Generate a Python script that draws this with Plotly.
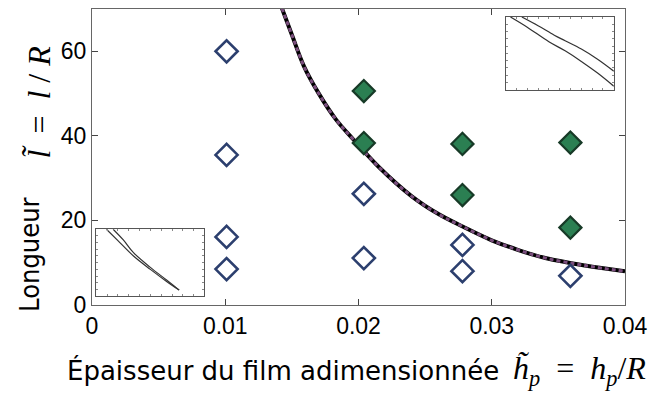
import plotly.graph_objects as go

# ---- data ----
open_x = [0.0101, 0.0101, 0.0101, 0.0101, 0.0204, 0.0204, 0.0278, 0.0278, 0.0359]
open_y = [60.0, 35.5, 16.1, 8.5, 26.3, 11.1, 14.2, 8.0, 6.9]

filled_x = [0.0204, 0.0204, 0.0278, 0.0278, 0.0359, 0.0359]
filled_y = [50.6, 38.3, 38.1, 26.0, 38.4, 18.3]

curve_x = [0.01425, 0.0150, 0.0159, 0.0170, 0.0183, 0.0196, 0.0216, 0.0240,
           0.0260, 0.02785, 0.0300, 0.0320, 0.0341, 0.0370, 0.0400]
curve_y = [70.2, 63.9, 56.5, 50.1, 43.9, 39.2, 32.4, 25.7,
           21.5, 18.5, 15.3, 13.0, 11.05, 9.33, 7.95]

inset1_xa = [0.045, 0.20, 0.40, 0.55, 0.70, 0.85, 1.00]
inset1_ya = [1.00, 0.86, 0.66, 0.535, 0.39, 0.23, 0.05]
inset1_xb = [0.15, 0.30, 0.45, 0.55, 0.70, 0.85, 1.00]
inset1_yb = [1.00, 0.88, 0.75, 0.674, 0.56, 0.42, 0.256]

inset2_xa = [0.094, 0.20, 0.344, 0.50, 0.65, 0.766]
inset2_ya = [1.00, 0.83, 0.60, 0.40, 0.22, 0.09]
inset2_xb = [0.156, 0.25, 0.344, 0.50, 0.65, 0.766]
inset2_yb = [1.00, 0.84, 0.65, 0.43, 0.24, 0.09]

x_ticks = [0, 0.01, 0.02, 0.03, 0.04]
x_ticklabels = ["0", "0.01", "0.02", "0.03", "0.04"]
y_ticks = [0, 20, 40, 60]

x_title_text = "Épaisseur du film adimensionnée"
x_title_math = "<i>h̃</i><sub><i>p</i></sub>  =  <i>h</i><sub><i>p</i></sub>/<i>R</i>"
y_title_text = "Longueur"
y_title_math = "<i>l̃</i>  =  <i>l</i> / <i>R</i>"

fig = go.Figure()

# theoretical curve: black solid + purple dashed on top
fig.add_trace(go.Scatter(x=curve_x, y=curve_y, mode="lines",
                         line=dict(color="black", width=4, shape="spline"),
                         showlegend=False, hoverinfo="skip"))
fig.add_trace(go.Scatter(x=curve_x, y=curve_y, mode="lines",
                         line=dict(color="#7b4f7e", width=3, dash="4px,3px", shape="spline"),
                         showlegend=False, hoverinfo="skip"))

fig.add_trace(go.Scatter(x=open_x, y=open_y, mode="markers",
                         marker=dict(symbol="diamond-open", size=17, color="#2c3f6e",
                                     line=dict(color="#2c3f6e", width=2.6)),
                         showlegend=False))
fig.add_trace(go.Scatter(x=filled_x, y=filled_y, mode="markers",
                         marker=dict(symbol="diamond", size=17, color="#2b7f52",
                                     line=dict(color="#173a27", width=2.2)),
                         showlegend=False))

# insets
for xs, ys, ax in [(inset1_xa, inset1_ya, "2"), (inset1_xb, inset1_yb, "2"),
                   (inset2_xa, inset2_ya, "3"), (inset2_xb, inset2_yb, "3")]:
    fig.add_trace(go.Scatter(x=xs, y=ys, mode="lines", xaxis="x" + ax, yaxis="y" + ax,
                             line=dict(color="#333333", width=1.2, shape="spline"),
                             showlegend=False, hoverinfo="skip"))

axis_common = dict(showgrid=False, zeroline=False, showline=True, linecolor="#666666",
                   linewidth=1.3, mirror="ticks", ticks="inside", ticklen=6,
                   tickcolor="#444444", tickwidth=1,
                   tickfont=dict(family="Liberation Sans", size=23, color="black"))

inset_axis = dict(showgrid=False, zeroline=False, showline=True, linecolor="#555555",
                  linewidth=1, mirror="ticks", ticks="inside", ticklen=2,
                  tickcolor="#888888", showticklabels=False, range=[0, 1],
                  dtick=0.1, fixedrange=True)

fig.update_layout(
    width=656, height=394,
    margin=dict(l=92, r=29, t=8, b=89),
    plot_bgcolor="white", paper_bgcolor="white",
    xaxis=dict(range=[0, 0.04], tickvals=x_ticks, ticktext=x_ticklabels, **axis_common),
    yaxis=dict(range=[0, 70], tickvals=y_ticks, **axis_common),
    xaxis2=dict(domain=[0.776, 0.979], anchor="y2", **inset_axis),
    yaxis2=dict(domain=[0.727, 0.973], anchor="x2", **inset_axis),
    xaxis3=dict(domain=[0.008, 0.211], anchor="y3", **inset_axis),
    yaxis3=dict(domain=[0.030, 0.256], anchor="x3", **inset_axis),
    shapes=[
        dict(type="rect", xref="x2 domain", yref="y2 domain", x0=0, x1=1, y0=0, y1=1,
             fillcolor="#f3f3f3", line=dict(width=0), layer="below"),
        dict(type="rect", xref="x3 domain", yref="y3 domain", x0=0, x1=1, y0=0, y1=1,
             fillcolor="#f3f3f3", line=dict(width=0), layer="below"),
    ],
    annotations=[
        dict(xref="paper", yref="paper", x=-0.0505, y=-0.222, xanchor="left", yanchor="middle",
             showarrow=False, text=x_title_text,
             font=dict(family="DejaVu Sans", size=26, color="black")),
        dict(xref="paper", yref="paper", x=0.786, y=-0.222, xanchor="left", yanchor="middle",
             showarrow=False, text=x_title_math,
             font=dict(family="Liberation Serif", size=32, color="black")),
        dict(xref="paper", yref="paper", x=-0.117, y=0.168, xanchor="center", yanchor="middle",
             showarrow=False, textangle=-90, text=y_title_text,
             font=dict(family="DejaVu Sans Condensed, DejaVu Sans", size=27, color="black")),
        dict(xref="paper", yref="paper", x=-0.099, y=0.685, xanchor="center", yanchor="middle",
             showarrow=False, textangle=-90, text=y_title_math,
             font=dict(family="Liberation Serif", size=32, color="black")),
    ],
)

fig.write_html("out.html")
